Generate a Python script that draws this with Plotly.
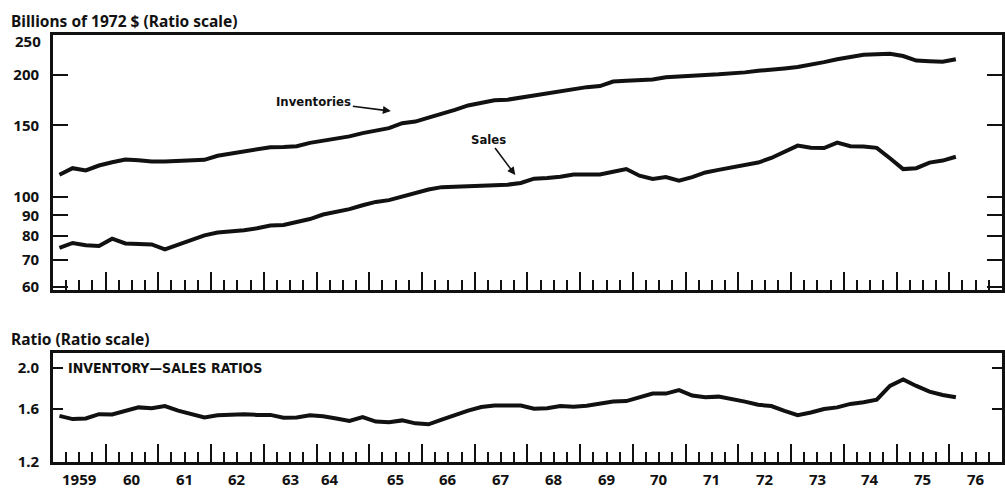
import math
import plotly.graph_objects as go

# ---------------- data (quarterly, 1959 Q1 - 1976 Q1) ----------------
start_year = 1959
inventories = [113.3, 117.6, 116.1, 119.4, 121.6, 123.5, 123.0, 122.1, 122.1, 122.4, 123.0, 123.3,
               126.2, 127.9, 129.1, 131.3, 132.5,
               132.7, 133.2, 135.8, 137.3, 138.6, 140.9, 143.5, 145.7, 147.6, 151.8, 153.2, 156.7,
               160.0, 163.8, 167.9, 170.8, 172.9,
               173.5, 175.6, 177.2, 180.2, 182.2, 183.9, 186.3, 187.4, 192.3, 193.1, 193.8, 194.5,
               197.1, 198.2, 198.6, 199.7, 200.4, 201.0,
               202.6, 204.5, 206.4, 207.2, 208.8, 211.5, 214.7, 218.3, 221.6, 224.0, 224.5, 225.3,
               222.3, 216.6, 215.9, 215.1, 218.3]
sales = [74.8, 76.9, 75.9, 75.6, 78.8, 76.7, 76.5, 76.3, 74.2, 76.2, 78.2, 80.3, 81.6, 82.1, 82.7,
         83.6, 84.9,
         85.2, 86.5, 88.1, 90.4, 91.8, 93.2, 95.3, 97.1, 98.1, 100.0, 102.3, 104.2, 105.6, 105.8,
         106.5, 106.5, 106.7,
         107.1, 108.1, 110.8, 111.2, 112.0, 113.5, 113.3, 113.5, 115.2, 117.0, 112.7, 110.6, 111.8,
         109.6, 111.8, 114.8, 116.5, 118.0,
         119.6, 121.4, 124.6, 129.1, 133.7, 132.0, 131.8, 136.0, 133.2, 133.0, 132.0, 124.4, 117.0,
         117.6, 121.4, 122.8, 125.5]
ratio = [1.541, 1.514, 1.519, 1.555, 1.552, 1.580, 1.614, 1.606, 1.626, 1.586, 1.561, 1.528, 1.546,
         1.549, 1.555, 1.549, 1.549,
         1.525, 1.528, 1.546, 1.538, 1.519, 1.498, 1.531, 1.493, 1.488, 1.503, 1.479, 1.471, 1.509,
         1.548, 1.586, 1.617, 1.631,
         1.631, 1.631, 1.603, 1.606, 1.626, 1.620, 1.628, 1.643, 1.666, 1.671, 1.702, 1.741, 1.741,
         1.775, 1.722, 1.706, 1.712, 1.690,
         1.666, 1.637, 1.626, 1.583, 1.546, 1.569, 1.600, 1.614, 1.645, 1.660, 1.684, 1.815, 1.880,
         1.815, 1.760, 1.728, 1.706]

year_labels = ["1959", "60", "61", "62", "63", "64", "65", "66", "67", "68", "69", "70", "71",
               "72", "73", "74", "75", "76"]
top_ticks = [60, 70, 80, 90, 100, 150, 200, 250]
top_tick_text = ["60", "70", "80", "90", "100", "150", "200", ""]
top_label_250 = "250"
bottom_ticks = [1.2, 1.6, 2.0]
bottom_tick_text = ["1.2", "1.6", "2.0"]

# quarter mid-points on a decimal-year axis
quarters = [start_year + (q + 0.5) / 4 for q in range(len(inventories))]

# ---------------- layout helpers ----------------
W, H = 1005, 498
def fx(p):
    return p / W
def fy(p):
    return 1 - p / H

FONT = "Noto Sans"
NARROW = "DejaVu Sans Condensed, Noto Sans, sans-serif"
BLACK = "#111111"

fig = go.Figure()
line_style = dict(color=BLACK, width=4)
fig.add_trace(go.Scatter(x=quarters, y=inventories, mode="lines", line=line_style,
                         xaxis="x", yaxis="y", showlegend=False, name="Inventories"))
fig.add_trace(go.Scatter(x=quarters, y=sales, mode="lines", line=line_style,
                         xaxis="x", yaxis="y", showlegend=False, name="Sales"))
fig.add_trace(go.Scatter(x=quarters, y=ratio, mode="lines", line=line_style,
                         xaxis="x2", yaxis="y2", showlegend=False, name="Inventory-sales ratio"))

year_ticks = list(range(start_year + 1, start_year + len(year_labels)))
xrange_ = [start_year, start_year + len(year_labels)]

def xaxis_cfg(anchor):
    return dict(domain=[fx(53), 1.0], range=xrange_, anchor=anchor,
                tickmode="array", tickvals=year_ticks, ticks="inside", ticklen=18,
                tickwidth=2, tickcolor=BLACK, showticklabels=False,
                showline=True, linewidth=2.5, linecolor=BLACK, mirror=True,
                showgrid=False, zeroline=False,
                minor=dict(dtick=0.25, tick0=start_year, ticks="inside", ticklen=10,
                           tickwidth=2, tickcolor=BLACK, showgrid=False))

tickfont = dict(family=FONT, size=15, color=BLACK, weight="bold")
titlefont = dict(family=FONT, size=15.5, color=BLACK, weight="bold")

fig.update_layout(
    width=W, height=H,
    margin=dict(l=0, r=0, t=0, b=0),
    paper_bgcolor="white", plot_bgcolor="white",
    xaxis=xaxis_cfg("y"),
    xaxis2=xaxis_cfg("y2"),
    yaxis=dict(type="log", domain=[fy(295), fy(36)],
               range=[math.log10(59), math.log10(250)], anchor="x",
               tickmode="array", tickvals=top_ticks, ticktext=top_tick_text,
               ticks="inside", ticklen=15, tickwidth=2, tickcolor=BLACK,
               showline=True, linewidth=2.5, linecolor=BLACK, mirror="ticks",
               showgrid=False, zeroline=False, tickfont=tickfont, ticklabelstandoff=8),
    yaxis2=dict(type="log", domain=[fy(470), fy(359)],
                range=[math.log10(1.2), math.log10(2.18)], anchor="x2",
                tickmode="array", tickvals=bottom_ticks, ticktext=bottom_tick_text,
                ticks="inside", ticklen=10, tickwidth=2, tickcolor=BLACK,
                showline=True, linewidth=2.5, linecolor=BLACK, mirror="ticks",
                showgrid=False, zeroline=False, tickfont=tickfont, ticklabelstandoff=8),
)

annotations = []
# panel titles
annotations.append(dict(text="Billions of 1972 $ (Ratio scale)", xref="paper", yref="paper",
                        x=fx(9), y=fy(21), xanchor="left", yanchor="middle", showarrow=False,
                        font=titlefont))
annotations.append(dict(text="Ratio (Ratio scale)", xref="paper", yref="paper",
                        x=fx(9), y=fy(345), xanchor="left", yanchor="middle", showarrow=False,
                        font=titlefont))
# top label of the upper scale sits just under the frame
annotations.append(dict(text=top_label_250, xref="paper", yref="paper",
                        x=fx(43), y=fy(42), xanchor="right", yanchor="middle", showarrow=False,
                        font=tickfont))
# year labels, centred in each year
for k, lab in enumerate(year_labels):
    xpos = start_year + k + 0.5
    if lab == "64":
        xpos -= 0.25
    annotations.append(dict(text=lab, xref="x2", yref="paper", x=xpos, y=fy(488),
                            xanchor="center", yanchor="middle", showarrow=False,
                            font=tickfont))
# in-panel labels
annotations.append(dict(text="INVENTORY\u2014SALES RATIOS", xref="x2", yref="y2",
                        x=start_year + 0.24, y=math.log10(2.0), xanchor="left", yanchor="middle",
                        showarrow=False, font=dict(family=NARROW, size=14, color=BLACK, weight="bold")))
annotations.append(dict(text="Inventories", xref="x", yref="y",
                        x=1965.41, y=math.log10(162.6), ax=-77, ay=-10,
                        showarrow=True, arrowhead=2, arrowsize=1, arrowwidth=1.6,
                        arrowcolor=BLACK, standoff=0,
                        font=dict(family=NARROW, size=13, color=BLACK, weight="bold")))
annotations.append(dict(text="Sales", xref="x", yref="y",
                        x=1967.77, y=math.log10(113.1), ax=-27, ay=-36,
                        showarrow=True, arrowhead=2, arrowsize=1, arrowwidth=1.6,
                        arrowcolor=BLACK, standoff=0,
                        font=dict(family=NARROW, size=13, color=BLACK, weight="bold")))
fig.update_layout(annotations=annotations)

fig.write_html("out.html", config={"displayModeBar": False},
               post_script="document.body.style.margin='0';")
